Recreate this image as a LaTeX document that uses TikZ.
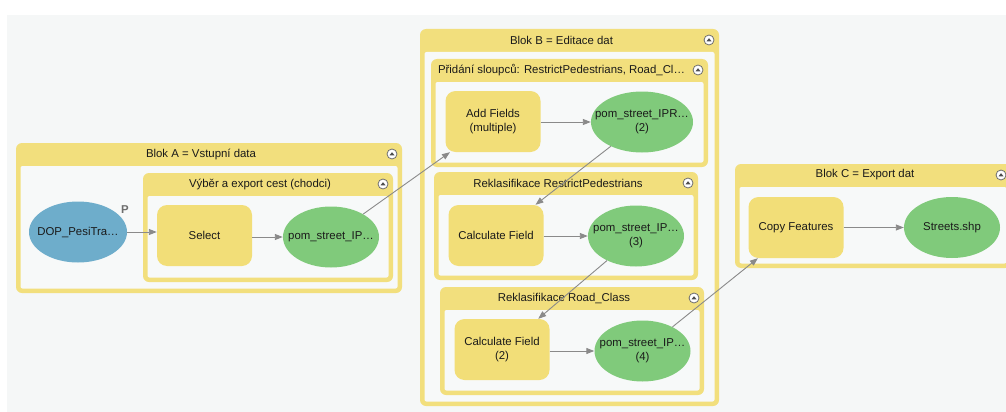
\documentclass[tikz,border=0pt]{standalone}
\usepackage{fontspec}
\setmainfont{Liberation Sans}
\usetikzlibrary{shapes.geometric,arrows.meta}

\definecolor{bgcol}{HTML}{F5F7F7}
\definecolor{grpyellow}{HTML}{F2DF7D}
\definecolor{grpinner}{HTML}{F7F9F9}
\definecolor{toolyellow}{HTML}{F2DE78}
\definecolor{vargreen}{HTML}{80CA7B}
\definecolor{inpblue}{HTML}{6EADCB}
\definecolor{flowgray}{HTML}{8A8A8A}
\definecolor{icongray}{HTML}{6E6E6E}
\definecolor{txtcol}{HTML}{1A1A1A}

\newcommand{\mfont}{\fontsize{11.4}{13.5}\selectfont}

% skupina modelu: jmeno, x1, y1, x2, y2, titulek
\newcommand{\modelgroup}[6]{%
  \fill[grpyellow, rounded corners=6pt] (#2,#3) rectangle (#4,#5);
  \fill[grpinner, rounded corners=2pt] ({#2+4.5},{#3+23}) rectangle ({#4-4.5},{#5-4.5});
  \node[grptitle] (#1) at ({(#2+#4-16)/2},{#3+11}) {#6};
  \draw[fill=white, draw=icongray, line width=0.8pt] ({#4-10},{#3+11}) circle (5pt);
  \fill[icongray!70!black] ({#4-12.5},{#3+12.3}) -- ({#4-7.5},{#3+12.3}) -- ({#4-10},{#3+9.2}) -- cycle;
}

\tikzset{
  tool/.style={rectangle, rounded corners=10pt, fill=toolyellow, minimum width=95pt,
    minimum height=61pt, inner sep=0pt, align=center, font=\mfont, text=txtcol},
  var/.style={ellipse, fill=vargreen, minimum width=96pt, minimum height=61pt,
    inner sep=0pt, align=center, font=\mfont, text=txtcol},
  inp/.style={var, fill=inpblue},
  flow/.style={draw=flowgray, line width=0.9pt, -{Triangle[length=8pt,width=6pt]}},
  grptitle/.style={font=\mfont, text=txtcol, inner sep=0pt},
}

\begin{document}
\begin{tikzpicture}[x=1pt, y=-1pt]
    % pozadi
    \useasboundingbox[fill=white] (0,0) rectangle (1006,412);
    \clip (0,0) rectangle (1006,412);
    \fill[bgcol] (7,15) rectangle (1006,412);

    % skupiny
    \modelgroup{tA}{16}{143}{402}{293}{Blok A = Vstupní data}
    \modelgroup{tV}{143}{173}{393}{282}{Výběr a export cest (chodci)}
    \modelgroup{tB}{420}{29}{719}{406}{Blok B = Editace dat}
    \modelgroup{tP}{431}{59}{708}{167}{Přidání sloupců: RestrictPedestrians, Road\_Cl…}
    \modelgroup{tR1}{434}{172}{698}{280}{Reklasifikace RestrictPedestrians}
    \modelgroup{tR2}{440}{287}{704}{395}{Reklasifikace Road\_Class}
    \modelgroup{tC}{735}{164}{1011}{268}{Blok C = Export dat}

    % Blok A
    \node[inp, minimum width=98pt] (dop) at (78,232) {\makebox[0pt]{DOP\_PesiTra…}};
    \node[font=\mfont\bfseries, text=icongray] (plabel) at (125,210) {P};
    \node[tool] (select) at (204.5,235.5) {Select};
    \node[var] (pom1) at (331,237) {\makebox[0pt]{pom\_street\_IP…}};

    % Blok B
    \node[tool] (addf) at (493,121.5) {Add Fields\\(multiple)};
    \node[var, minimum width=102pt] (pom2) at (642,122) {\makebox[0pt]{pom\_street\_IPR…}\\(2)};
    \node[tool] (calc1) at (496,235.5) {Calculate Field};
    \node[var] (pom3) at (636,236) {\makebox[0pt]{pom\_street\_IP…}\\(3)};
    \node[tool] (calc2) at (502,349.5) {Calculate Field\\(2)};
    \node[var] (pom4) at (642.5,351) {\makebox[0pt]{pom\_street\_IP…}\\(4)};

    % Blok C
    \node[tool] (copyf) at (796,227.5) {Copy Features};
    \node[var] (shp) at (952,227.5) {Streets.shp};

    % spojnice
    \draw[flow] (dop) -- (dop -| select.west);
    \draw[flow] (select.east |- pom1) -- (pom1);
    \draw[flow] (pom1) -- (addf);
    \draw[flow] (addf.east |- pom2) -- (pom2);
    \draw[flow] (pom2) -- (calc1);
    \draw[flow] (calc1.east |- pom3) -- (pom3);
    \draw[flow] (pom3) -- (calc2);
    \draw[flow] (calc2.east |- pom4) -- (pom4);
    \draw[flow] (pom4) -- (copyf);
    \draw[flow] (copyf) -- (shp);
\end{tikzpicture}
\end{document}
